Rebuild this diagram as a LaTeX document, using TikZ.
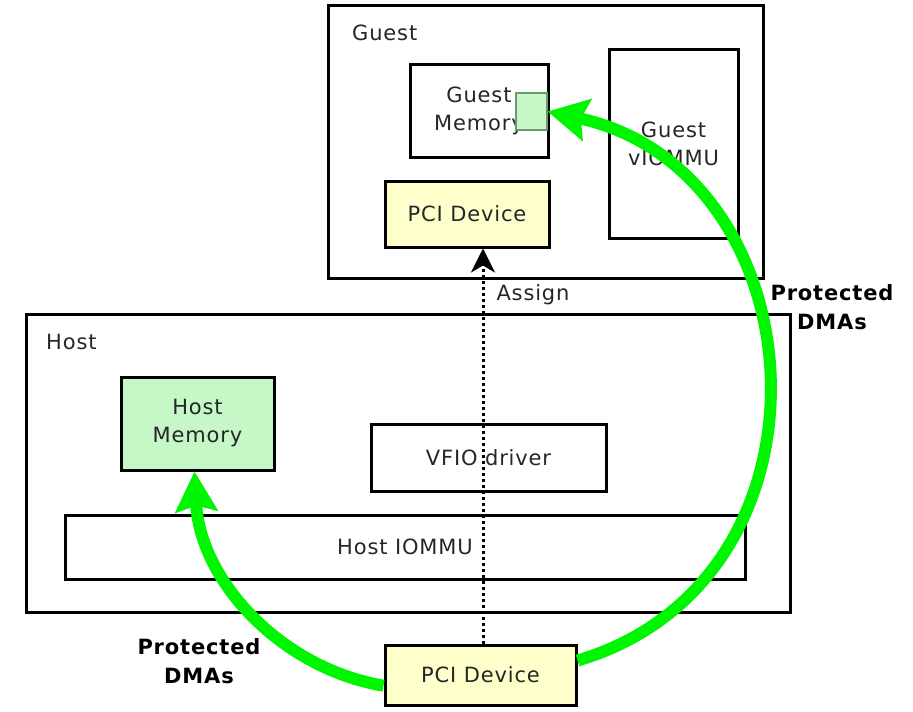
\documentclass[tikz,border=0pt]{standalone}
\usepackage{fontspec}
\setmainfont[LetterSpace=4]{DejaVu Sans}
\usetikzlibrary{arrows.meta,calc}
\definecolor{boxyellow}{HTML}{FFFFCC}
\definecolor{boxgreen}{HTML}{C6F7C6}
\definecolor{arrowgreen}{HTML}{00F500}
\definecolor{sqedge}{HTML}{6A9A6A}
\definecolor{txt}{HTML}{262626}
\tikzset{
  box/.style={draw=black, line width=3pt, rectangle, inner sep=0pt, align=center,
    font=\fontsize{21}{28}\selectfont, text=txt},
  lbl/.style={font=\fontsize{21}{28}\selectfont, text=txt, inner sep=0pt, align=center},
  blbl/.style={font=\bfseries\fontsize{21}{29}\selectfont, inner sep=0pt, align=center},
  dma/.style={draw=arrowgreen, line width=12pt, -{Stealth[length=40pt,width=42pt,inset=6pt]}},
}
\begin{document}
\begin{tikzpicture}[x=1pt,y=-1pt]
\useasboundingbox (0,0) rectangle (913,712);
% guest
\node[box, minimum width=435, minimum height=273] (guest) at (545.5,141.5) {};
\node[lbl, anchor=west] (guestlbl) at (352,33) {Guest};
\node[box, minimum width=138, minimum height=93] (gmem) at (479,110.5) {Guest\\Memory};
\node[draw=sqedge, fill=boxgreen, line width=1.2pt, minimum width=31, minimum height=37, inner sep=0pt] (sq) at (531.5,111.5) {};
\node[box, minimum width=129, minimum height=189] (viommu) at (673.5,143.5) {Guest\\vIOMMU};
\node[box, fill=boxyellow, minimum width=164, minimum height=66] (gpci) at (467,214) {PCI Device};
% host
\node[box, minimum width=764, minimum height=298] (host) at (408,463) {};
\node[lbl, anchor=west] (hostlbl) at (46,342) {Host};
\node[box, fill=boxgreen, minimum width=153, minimum height=93] (hmem) at (197.5,423.5) {Host\\Memory};
\node[box, minimum width=235, minimum height=67] (vfio) at (488.5,457.5) {VFIO driver};
\node[box, minimum width=680, minimum height=64] (iommu) at (405,547) {Host IOMMU};
% device
\node[box, fill=boxyellow, minimum width=191, minimum height=60] (pcib) at (480.5,675) {PCI Device};
% assign
\draw[line width=3pt, dash pattern=on 3pt off 3pt, -{Stealth[length=24pt,width=24pt,inset=7pt]}]
  ([xshift=2.5pt]pcib.north) -- ([xshift=2.5pt]pcib.north |- gpci.south);
\node[lbl] (assign) at (533,295) {Assign};
% DMAs
\draw[dma] ($(pcib.north east)!0.27!(pcib.south east)$) .. controls (850,580) and (820,170) .. (sq.east);
\draw[dma] ($(pcib.north west)!0.67!(pcib.south west)$) .. controls (280,668) and (200,580) .. ([xshift=-3pt]hmem.south);
\node[blbl] (dmar) at (832,307) {Protected\\DMAs};
\node[blbl] (dmal) at (199,661) {Protected\\DMAs};
\end{tikzpicture}
\end{document}
